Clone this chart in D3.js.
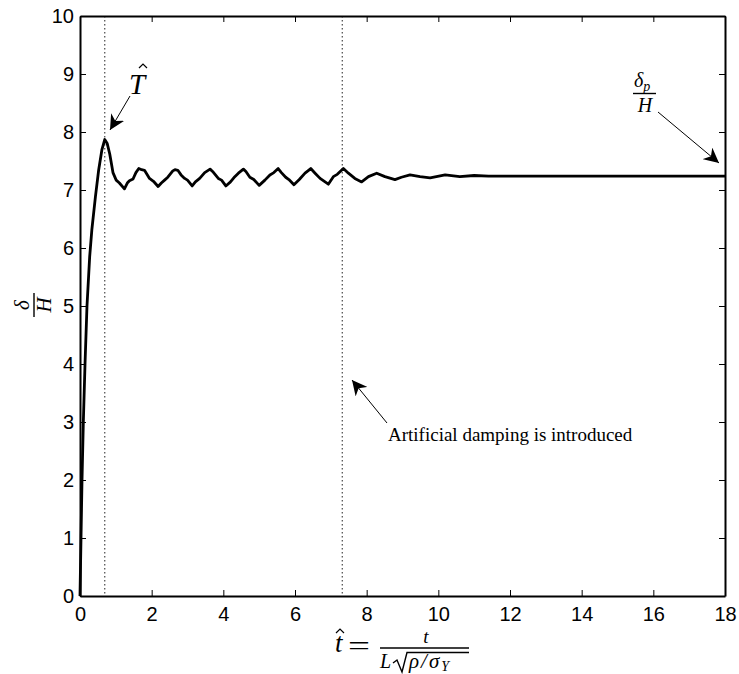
<!DOCTYPE html>
<html>
<head>
<meta charset="utf-8">
<script src="https://cdn.jsdelivr.net/npm/d3@7"></script>
<style>
  body { margin: 0; background: #fff; }
  .tick text { font-family: "Liberation Sans", Arial, sans-serif; font-size: 20px; fill: #000; }
  .latex { font-family: "Liberation Serif", "DejaVu Serif", serif; fill: #000; }
</style>
</head>
<body>
<svg width="739" height="674"></svg>
<script>
var tValues = [0, 0.028, 0.056, 0.093, 0.14, 0.195, 0.27, 0.33, 0.43, 0.52, 0.61, 0.69, 0.76, 0.83, 0.92,
  1.01, 1.1, 1.24, 1.32, 1.38, 1.48, 1.56, 1.64, 1.72, 1.8, 1.94, 2.05, 2.18, 2.27, 2.36, 2.45, 2.59,
  2.65, 2.73, 2.82, 2.92, 3.0, 3.13, 3.22, 3.34, 3.48, 3.63, 3.7, 3.86, 3.95, 4.07, 4.2, 4.32, 4.42,
  4.56, 4.63, 4.74, 4.85, 5.0, 5.16, 5.3, 5.41, 5.53, 5.62, 5.74, 5.83, 5.97, 6.12, 6.28, 6.44, 6.56,
  6.7, 6.84, 6.93, 7.07, 7.18, 7.35, 7.49, 7.67, 7.86, 8.05, 8.28, 8.51, 8.79, 8.97, 9.21, 9.49, 9.77,
  10.19, 10.6, 11.0, 11.4, 12.5, 14, 18];
var deltaValues = [0, 1, 2, 3, 4, 5, 5.85, 6.31, 6.88, 7.34, 7.69, 7.87, 7.8, 7.62, 7.3,
  7.17, 7.12, 7.02, 7.12, 7.16, 7.19, 7.3, 7.37, 7.35, 7.34, 7.2, 7.15, 7.06, 7.12, 7.17, 7.22, 7.33,
  7.35, 7.34, 7.26, 7.2, 7.17, 7.07, 7.14, 7.2, 7.3, 7.36, 7.32, 7.2, 7.17, 7.07, 7.14, 7.23, 7.29,
  7.36, 7.32, 7.22, 7.18, 7.08, 7.17, 7.26, 7.3, 7.37, 7.3, 7.22, 7.18, 7.09, 7.18, 7.29, 7.37, 7.29,
  7.2, 7.14, 7.1, 7.23, 7.27, 7.37, 7.29, 7.2, 7.14, 7.23, 7.29, 7.23, 7.18, 7.22, 7.26, 7.23, 7.21,
  7.26, 7.23, 7.25, 7.24, 7.24, 7.24, 7.24];
var xTicks = [0, 2, 4, 6, 8, 10, 12, 14, 16, 18];
var yTicks = [0, 1, 2, 3, 4, 5, 6, 7, 8, 9, 10];
var markerT = [0.69, 7.32]; // T-hat and start of damping

var svg = d3.select("svg");
var margin = {top: 16, right: 14, bottom: 78, left: 80};
var width = 739 - margin.left - margin.right;
var height = 674 - margin.top - margin.bottom;

var x = d3.scaleLinear().domain([0, 18]).range([0, width]);
var y = d3.scaleLinear().domain([0, 10]).range([height, 0]);

var g = svg.append("g").attr("transform", "translate(" + margin.left + "," + margin.top + ")");

// dotted markers
g.selectAll(".marker")
  .data(markerT)
  .enter().append("line")
  .attr("class", "marker")
  .attr("x1", function(d) { return x(d); })
  .attr("x2", function(d) { return x(d); })
  .attr("y1", 0).attr("y2", height)
  .attr("stroke", "#555")
  .attr("stroke-width", 1.3)
  .attr("stroke-dasharray", "1.5,2.5");

// axes, matlab style box with ticks inside
var xAxis = g.append("g").attr("transform", "translate(0," + height + ")")
  .call(d3.axisBottom(x).tickValues(xTicks).tickSizeInner(-6).tickSizeOuter(0).tickPadding(11));
var yAxis = g.append("g")
  .call(d3.axisLeft(y).tickValues(yTicks).tickSizeInner(-6).tickSizeOuter(0).tickPadding(6));
g.append("g")
  .call(d3.axisTop(x).tickValues(xTicks).tickSizeInner(-6).tickSizeOuter(0).tickFormat(""));
g.append("g").attr("transform", "translate(" + width + ",0)")
  .call(d3.axisRight(y).tickValues(yTicks).tickSizeInner(-6).tickSizeOuter(0).tickFormat(""));

g.selectAll(".domain").attr("stroke", "#000").attr("stroke-width", 2);
g.selectAll(".tick line").attr("stroke", "#000").attr("stroke-width", 1);
xAxis.selectAll(".tick text").attr("dy", "0.71em");

// curve
var pts = tValues.map(function(t, i) { return [t, deltaValues[i]]; });
var line = d3.line()
  .x(function(d) { return x(d[0]); })
  .y(function(d) { return y(d[1]); });

g.append("path")
  .datum(pts)
  .attr("d", line)
  .attr("fill", "none")
  .attr("stroke", "#000")
  .attr("stroke-width", 2.8)
  .attr("stroke-linejoin", "round");

// arrows
svg.append("defs").append("marker")
  .attr("id", "head")
  .attr("viewBox", "0 0 10 10")
  .attr("refX", 10).attr("refY", 5)
  .attr("markerWidth", 15).attr("markerHeight", 15)
  .attr("markerUnits", "userSpaceOnUse")
  .attr("orient", "auto")
  .append("path")
  .attr("d", "M0,0 L10,5 L0,10 L3,5 Z")
  .attr("fill", "#000");

function arrow(x1, y1, x2, y2) {
  svg.append("line")
    .attr("x1", x1).attr("y1", y1).attr("x2", x2).attr("y2", y2)
    .attr("stroke", "#000").attr("stroke-width", 1)
    .attr("marker-end", "url(#head)");
}
function hat(cx, cy) {
  svg.append("path")
    .attr("d", "M" + (cx - 4) + "," + cy + " L" + cx + "," + (cy - 4) + " L" + (cx + 4) + "," + cy)
    .attr("fill", "none").attr("stroke", "#000").attr("stroke-width", 1.2);
}
arrow(130, 96, 110, 130);
arrow(658, 112, 719, 163);
arrow(387, 423, 352, 380);

// T hat
svg.append("text").attr("class", "latex")
  .attr("x", 129).attr("y", 94)
  .style("font-size", "29px").style("font-style", "italic")
  .text("T");
hat(143, 68);

// delta_p / H
var dp = svg.append("text").attr("class", "latex")
  .attr("x", 634).attr("y", 87)
  .style("font-size", "20px").style("font-style", "italic");
dp.append("tspan").text("\u03B4");
dp.append("tspan").attr("dy", 4).style("font-size", "14px").text("p");
svg.append("line").attr("x1", 633).attr("x2", 656).attr("y1", 93.5).attr("y2", 93.5)
  .attr("stroke", "#000").attr("stroke-width", 1.4);
svg.append("text").attr("class", "latex")
  .attr("x", 645).attr("y", 112).attr("text-anchor", "middle")
  .style("font-size", "20px").style("font-style", "italic")
  .text("H");

svg.append("text").attr("class", "latex")
  .attr("x", 388).attr("y", 441)
  .style("font-size", "19px")
  .text("Artificial damping is introduced");

// y label delta / H
var yl = svg.append("g").attr("transform", "translate(34,305) rotate(-90)");
yl.append("text").attr("class", "latex")
  .attr("x", 0).attr("y", -5).attr("text-anchor", "middle")
  .style("font-size", "21px").style("font-style", "italic")
  .text("\u03B4");
yl.append("line").attr("x1", -12).attr("x2", 12).attr("y1", 0).attr("y2", 0)
  .attr("stroke", "#000").attr("stroke-width", 1.4);
yl.append("text").attr("class", "latex")
  .attr("x", 0).attr("y", 17).attr("text-anchor", "middle")
  .style("font-size", "21px").style("font-style", "italic")
  .text("H");

// x label t-hat = t / (L sqrt(rho/sigma_Y))
svg.append("text").attr("class", "latex")
  .attr("x", 335).attr("y", 652)
  .style("font-size", "27px").style("font-style", "italic")
  .text("t");
hat(340, 633);
svg.append("text").attr("class", "latex")
  .attr("x", 348).attr("y", 655)
  .attr("textLength", 22).attr("lengthAdjust", "spacingAndGlyphs")
  .style("font-size", "28px")
  .text("=");
svg.append("text").attr("class", "latex")
  .attr("x", 426).attr("y", 643).attr("text-anchor", "middle")
  .style("font-size", "19px").style("font-style", "italic")
  .text("t");
svg.append("line").attr("x1", 380).attr("x2", 469).attr("y1", 648).attr("y2", 648)
  .attr("stroke", "#000").attr("stroke-width", 1.6);
svg.append("text").attr("class", "latex")
  .attr("x", 380).attr("y", 668)
  .style("font-size", "20px").style("font-style", "italic")
  .text("L");
svg.append("path")
  .attr("d", "M393,663 L397,660 L402,672 L407,652.5 L469,652.5")
  .attr("fill", "none").attr("stroke", "#000").attr("stroke-width", 1.4);
var den = svg.append("text").attr("class", "latex")
  .attr("x", 409).attr("y", 668)
  .style("font-size", "21px").style("font-style", "italic");
den.append("tspan").style("letter-spacing", "2px").text("\u03C1/\u03C3");
den.append("tspan").attr("dy", 3).style("font-size", "14px").text("Y");
</script>
</body>
</html>
